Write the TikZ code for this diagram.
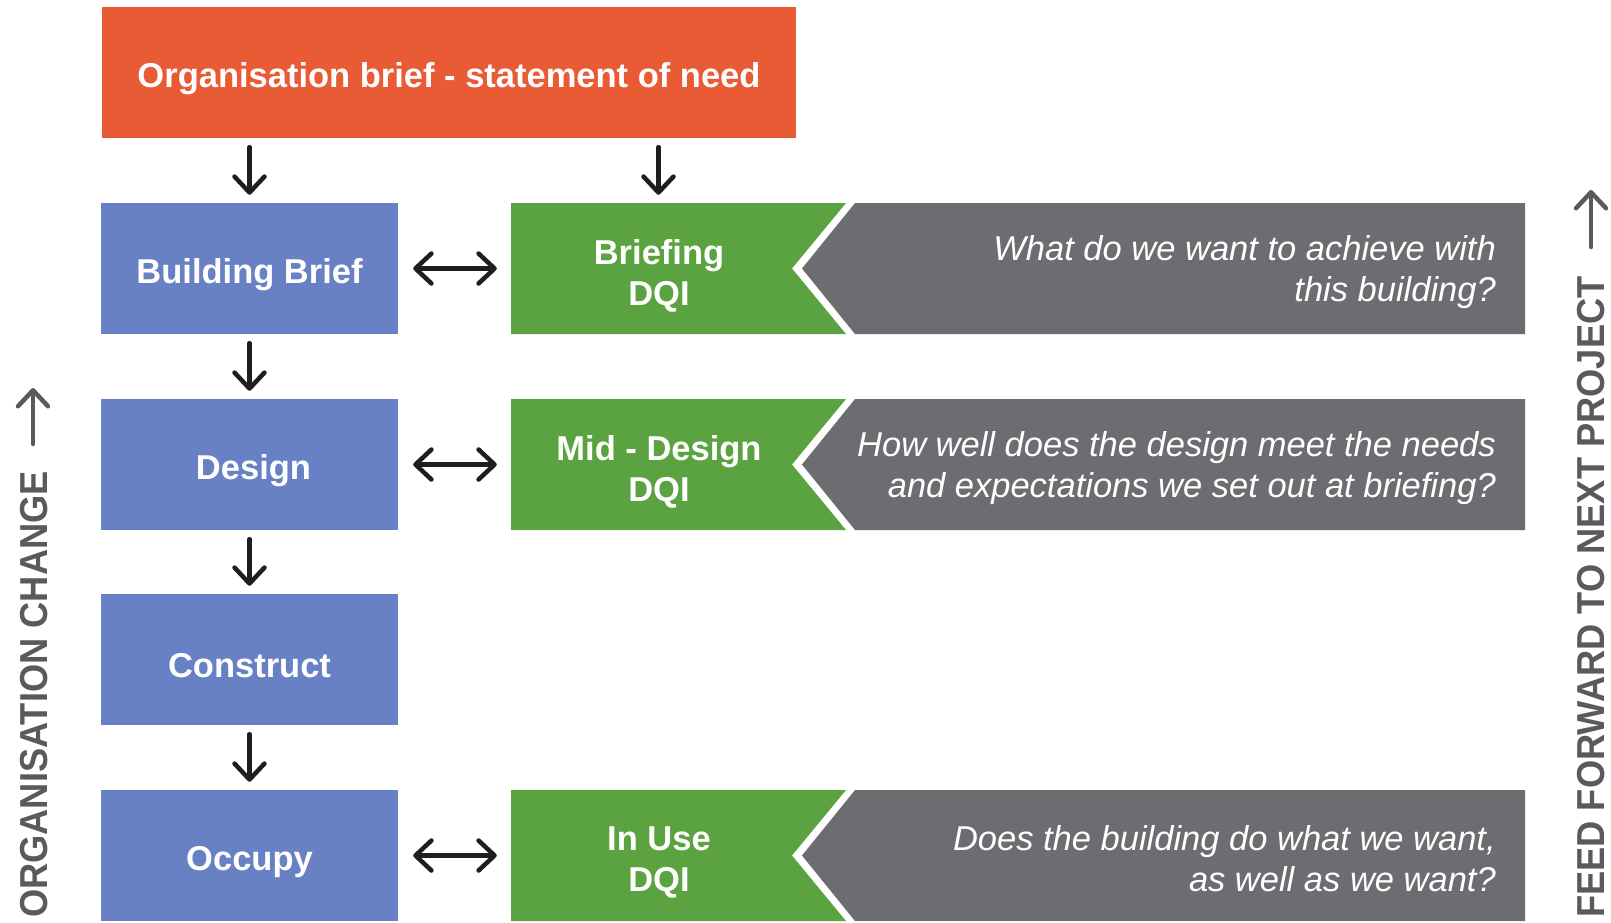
\documentclass[tikz,border=0pt]{standalone}
\usepackage{fontspec}
\setmainfont{Liberation Sans}
\newfontfamily\sidefont{Liberation Sans}[FakeStretch=0.93]
\usetikzlibrary{arrows.meta}
\definecolor{orangeC}{HTML}{E85B34}
\definecolor{blueC}{HTML}{6781C4}
\definecolor{greenC}{HTML}{5AA340}
\definecolor{grayC}{HTML}{6C6D70}
\definecolor{sideC}{HTML}{595A5C}
\definecolor{arrC}{HTML}{1E1E1E}
\begin{document}
\begin{tikzpicture}[x=1pt,y=-1pt,
  bigfont/.style={font=\fontsize{34.5}{41}\selectfont\bfseries},
  qfont/.style={font=\fontsize{34.5}{41}\selectfont\itshape},
  bluebox/.style={fill=blueC,minimum width=297pt,minimum height=131pt,inner sep=0pt},
  btext/.style={text=white,bigfont,inner sep=0pt},
  gtext/.style={text=white,bigfont,align=center,inner sep=0pt},
  gbox/.style={minimum width=295pt,minimum height=131pt,inner sep=0pt},
  qtext/.style={text=white,qfont,align=right,anchor=east,inner sep=0pt},
  arr/.style={line width=4.5pt,line cap=round,arrC,-{Straight Barb[length=16pt,width=30pt,round]}},
  darr/.style={line width=4.5pt,line cap=round,arrC,{Straight Barb[length=16pt,width=30pt,round]}-{Straight Barb[length=16pt,width=30pt,round]}},
  sidearr/.style={line width=4.5pt,line cap=round,sideC,-{Straight Barb[length=16pt,width=30pt,round]}},
  sidetext/.style={text=sideC,font=\fontsize{39}{39}\sidefont\bfseries,rotate=90,inner sep=0pt,anchor=base west}]
\useasboundingbox (0,0) rectangle (1611,922);

% orange top box
\node[fill=orangeC,minimum width=694pt,minimum height=131pt,inner sep=0pt] (org) at (449,72.5) {};
\node[btext] (orgt) at (449,79) {Organisation brief - statement of need};

% blue column
\node[bluebox] (bb) at (249.5,268.5) {};
\node[bluebox] (des) at (249.5,464.5) {};
\node[bluebox] (con) at (249.5,659.5) {};
\node[bluebox] (occ) at (249.5,855.5) {};
\node[btext] (bbt) at (249.5,275) {Building Brief};
\node[btext] (dest) at (253.5,471) {Design};
\node[btext] (cont) at (249.5,666) {Construct};
\node[btext] (occt) at (249.5,862) {Occupy};

% green / gray chevrons
\foreach \c in {268.5,464.5,855.5}{
  \fill[greenC] (511,\c-65.5) -- (846,\c-65.5) -- (792,\c) -- (846,\c+65.5) -- (511,\c+65.5) -- cycle;
  \fill[grayC] (855,\c-65.5) -- (1525,\c-65.5) -- (1525,\c+65.5) -- (855,\c+65.5) -- (802,\c) -- cycle;
}

\node[gbox] (g1) at (658.5,268.5) {};
\node[gbox] (g2) at (658.5,464.5) {};
\node[gbox] (g3) at (658.5,855.5) {};
\node[gtext] (g1t) at (659,276) {Briefing\\DQI};
\node[gtext] (g2t) at (659,472) {Mid - Design\\DQI};
\node[gtext] (g3t) at (659,863) {In Use\\DQI};

\node[qtext] (q1) at (1496,272) {What do we want to achieve with\\this building?};
\node[qtext] (q2) at (1496,468) {How well does the design meet the needs\\and expectations we set out at briefing?};
\node[qtext] (q3) at (1496,859) {Does the building do what we want,\\as well as we want?};

% arrows
\draw[arr,shorten <=9pt,shorten >=8pt] (org.south -| bb) -- (bb.north);
\draw[arr,shorten <=9pt,shorten >=8pt] (org.south -| g1) -- (g1.north);
\draw[arr,shorten <=9pt,shorten >=8pt] (bb) -- (des);
\draw[arr,shorten <=9pt,shorten >=8pt] (des) -- (con);
\draw[arr,shorten <=9pt,shorten >=8pt] (con) -- (occ);
\draw[darr,shorten <=15pt,shorten >=14pt] (bb.east) -- (g1.west);
\draw[darr,shorten <=15pt,shorten >=14pt] (des.east) -- (g2.west);
\draw[darr,shorten <=15pt,shorten >=14pt] (occ.east) -- (g3.west);

% side labels
\node[sidetext] (lt) at (47,918) {ORGANISATION CHANGE};
\coordinate (ltend) at (33,388);
\draw[sidearr] (33,444) -- (ltend);
\node[sidetext] (rt) at (1604,918) {FEED FORWARD TO NEXT PROJECT};
\coordinate (rtend) at (1591,190);
\draw[sidearr] (1591,247) -- (rtend);
\end{tikzpicture}
\end{document}
